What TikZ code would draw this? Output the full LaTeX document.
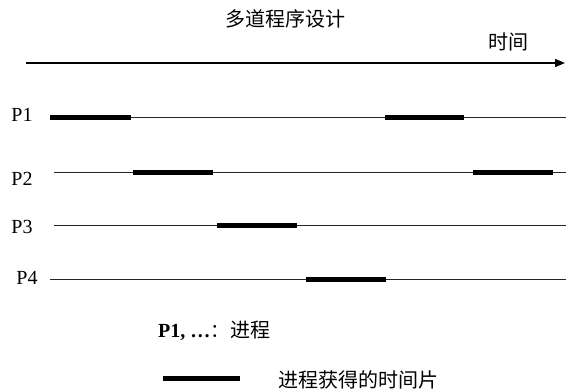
\documentclass[tikz,border=0pt]{standalone}
\usepackage{fontspec}
\setmainfont{Liberation Serif}
\newfontfamily\cjk{Noto Sans CJK SC}
\usetikzlibrary{arrows.meta}
\tikzset{
  thinline/.style={line width=1pt, black!85},
  slice/.style={line width=5pt, black},
  plabel/.style={font=\fontsize{20}{20}\selectfont, inner sep=0pt},
  cjklabel/.style={font=\cjk\fontsize{20}{20}\selectfont, inner sep=0pt},
}
\begin{document}
\begin{tikzpicture}[x=1pt,y=-1pt]
\useasboundingbox (0,0) rectangle (566,389);
% title and time axis
\node[cjklabel] (title) at (285,19) {多道程序设计};
\node[cjklabel] (time) at (508,42) {时间};
\coordinate (ax0) at (26,63);
\coordinate (ax1) at (565,63);
\draw[line width=1.4pt, -{Triangle[length=10pt,width=8pt]}] (ax0) -- (ax1);
% process labels
\node[plabel] (p1) at (22,115) {P1};
\node[plabel] (p2) at (22,179) {P2};
\node[plabel] (p3) at (22,227) {P3};
\node[plabel] (p4) at (27,278) {P4};
% timelines
\coordinate (l1a) at (50,117);  \coordinate (l1b) at (566,117);
\coordinate (l2a) at (54,172);  \coordinate (l2b) at (566,172);
\coordinate (l3a) at (54,225);  \coordinate (l3b) at (566,225);
\coordinate (l4a) at (50,279);  \coordinate (l4b) at (566,279);
\draw[thinline] (l1a) -- (l1b);
\draw[thinline] (l2a) -- (l2b);
\draw[thinline] (l3a) -- (l3b);
\draw[thinline] (l4a) -- (l4b);
% time slices
\coordinate (s1a) at (50,117);  \coordinate (s1b) at (131,117);
\coordinate (s2a) at (133,172); \coordinate (s2b) at (213,172);
\coordinate (s3a) at (217,225); \coordinate (s3b) at (297,225);
\coordinate (s4a) at (306,279); \coordinate (s4b) at (386,279);
\coordinate (s5a) at (385,117); \coordinate (s5b) at (464,117);
\coordinate (s6a) at (473,172); \coordinate (s6b) at (553,172);
\draw[slice] (s1a) -- (s1b);
\draw[slice] (s2a) -- (s2b);
\draw[slice] (s3a) -- (s3b);
\draw[slice] (s4a) -- (s4b);
\draw[slice] (s5a) -- (s5b);
\draw[slice] (s6a) -- (s6b);
% legend
\node[anchor=west, inner sep=0pt] (leg1) at (158,331)
  {\fontsize{20}{20}\selectfont{\bfseries P1, …}{\cjk\fontsize{19}{19}\selectfont ：}\hspace{1pt}{\cjk\fontsize{20}{20}\selectfont 进程}};
\coordinate (lg0) at (163,378);
\coordinate (lg1) at (240,378);
\draw[slice] (lg0) -- (lg1);
\node[cjklabel, anchor=west] (leg2) at (278,380) {进程获得的时间片};
\end{tikzpicture}
\end{document}
